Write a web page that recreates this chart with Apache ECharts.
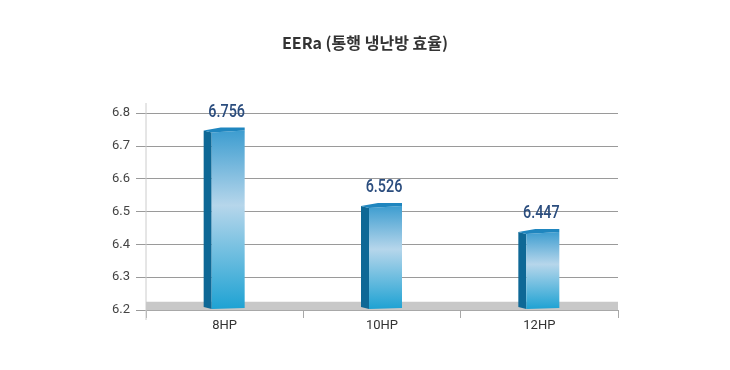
<!DOCTYPE html>
<html><head><meta charset="utf-8">
<script src="https://cdn.jsdelivr.net/npm/echarts@6/dist/echarts.min.js"></script>
<style>html,body{margin:0;padding:0;background:#fff}#c{width:730px;height:370px}</style>
</head><body><div id="c"></div>
<script>
const categories = ['8HP', '10HP', '12HP'];
const values = [6.756, 6.526, 6.447];
const valueLabels = ['6.756', '6.526', '6.447'];
const yMin = 6.2, yMax = 6.8, yStep = 0.1;
const titleText = 'EERa (통행 냉난방 효율)';

const chart = echarts.init(document.getElementById('c'), null, {renderer: 'canvas'});
const frontGrad = new echarts.graphic.LinearGradient(0, 0, 0, 1, [
  {offset: 0, color: '#3d9dd0'},
  {offset: 0.42, color: '#b6d6eb'},
  {offset: 1, color: '#1ea2d3'}
]);
function renderItem(params, api) {
  const c = api.coord([api.value(0), api.value(1)]);
  const base = api.coord([api.value(0), yMin])[1] - 1;
  const x = c[0], y0 = c[1];
  const L = x - 13, R = x + 20, S = x - 21;
  return {
    type: 'group',
    children: [
      {type: 'polygon', shape: {points: [[S, y0 + 3], [L, y0 + 5], [L, base], [S, base - 2]]},
        style: {fill: '#0e6896'}},
      {type: 'polygon', shape: {points: [[L, y0 + 5], [R, y0 + 3], [R, base - 1], [L, base]]},
        style: {fill: frontGrad}},
      {type: 'polygon', shape: {points: [[S, y0 + 3], [x - 4, y0], [R, y0], [R, y0 + 3], [L, y0 + 5]]},
        style: {fill: '#1f86bf'}},
      {type: 'text', x: x + 2, y: y0 - 15, scaleX: 0.8,
        style: {text: valueLabels[params.dataIndex], x: 0, y: 0,
        align: 'center', verticalAlign: 'middle', fill: '#2b4d7e',
        font: '500 18px Roboto, sans-serif'}}
    ]
  };
}
chart.setOption({
  animation: false,
  title: {text: titleText, left: 'center', top: 30,
    textStyle: {fontSize: 16, fontWeight: 'bold', color: '#333', fontFamily: '"Noto Sans CJK KR", sans-serif'}},
  grid: {left: 146, right: 112, top: 113, bottom: 60},
  xAxis: {type: 'category', data: categories,
    axisLine: {lineStyle: {color: '#a8a8a8'}},
    axisTick: {show: true, length: 8, lineStyle: {color: '#a8a8a8'}},
    axisLabel: {margin: 9, fontSize: 13, color: '#333', fontFamily: 'Roboto, sans-serif'}},
  yAxis: {type: 'value', min: yMin, max: yMax, interval: yStep,
    axisLine: {show: false},
    axisTick: {show: true, length: 10, lineStyle: {color: '#9a9a9a'}},
    splitLine: {lineStyle: {color: '#9a9a9a'}},
    axisLabel: {margin: 16, fontSize: 13, color: '#444', fontFamily: 'Roboto, sans-serif',
      formatter: v => v.toFixed(1)}},
  graphic: [{type: 'line', shape: {x1: 146, y1: 103, x2: 146, y2: 320},
    style: {stroke: '#cccccc', lineWidth: 1}, z: 1}],
  series: [{
    type: 'custom', renderItem: renderItem, z: 5,
    data: categories.map((c, i) => [i, values[i]]),
    markArea: {silent: true, z: 1, itemStyle: {color: '#c8c8c8'},
      data: [[{yAxis: yMin}, {yAxis: yMin + 0.025}]]}
  }]
});
</script></body></html>
